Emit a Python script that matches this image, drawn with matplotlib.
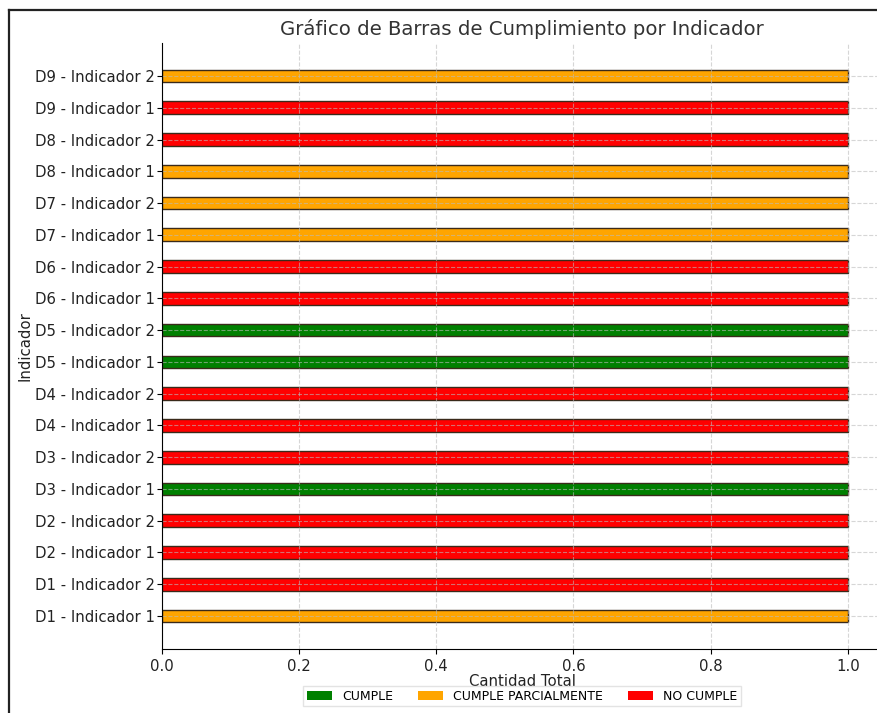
import matplotlib
matplotlib.use("Agg")
import matplotlib.pyplot as plt
from matplotlib.patches import Patch
from matplotlib.lines import Line2D

plt.rcParams['font.family'] = ['DejaVu Sans']

indicators = ["D1 - Indicador 1", "D1 - Indicador 2", "D2 - Indicador 1", "D2 - Indicador 2",
              "D3 - Indicador 1", "D3 - Indicador 2", "D4 - Indicador 1", "D4 - Indicador 2",
              "D5 - Indicador 1", "D5 - Indicador 2", "D6 - Indicador 1", "D6 - Indicador 2",
              "D7 - Indicador 1", "D7 - Indicador 2", "D8 - Indicador 1", "D8 - Indicador 2",
              "D9 - Indicador 1", "D9 - Indicador 2"]
status = ["CUMPLE PARCIALMENTE", "NO CUMPLE", "NO CUMPLE", "NO CUMPLE",
          "CUMPLE", "NO CUMPLE", "NO CUMPLE", "NO CUMPLE",
          "CUMPLE", "CUMPLE", "NO CUMPLE", "NO CUMPLE",
          "CUMPLE PARCIALMENTE", "CUMPLE PARCIALMENTE", "CUMPLE PARCIALMENTE", "NO CUMPLE",
          "NO CUMPLE", "CUMPLE PARCIALMENTE"]
values = [1] * 18
categories = ["CUMPLE", "CUMPLE PARCIALMENTE", "NO CUMPLE"]
colors = {"CUMPLE": "green", "CUMPLE PARCIALMENTE": "orange", "NO CUMPLE": "red"}

W, H = 878, 713
fig = plt.figure(figsize=(W / 100, H / 100), dpi=100)
ax = fig.add_axes([162 / W, 1 - 649 / H, (882 - 162) / W, (649 - 43) / H])

ypos = list(range(len(indicators)))
ax.barh(ypos, values, height=0.4, color=[colors[s] for s in status],
        edgecolor="#3a2a1a", linewidth=1.0, zorder=2)

ax.set_yticks(ypos)
ax.set_yticklabels(indicators, fontsize=10.7, color="#222222")
ax.set_xticks([0.0, 0.2, 0.4, 0.6, 0.8, 1.0])
ax.set_xticklabels(["0.0", "0.2", "0.4", "0.6", "0.8", "1.0"], fontsize=10.7, color="#222222")
ax.tick_params(axis="y", pad=1.5)
ax.set_xlim(0, 1.05)
ax.set_ylim(-1.04, 18.04)
ax.grid(True, linestyle="--", color="#bbbbbb", alpha=0.6, linewidth=0.8, zorder=3)
ax.set_axisbelow(False)
for sp in ["top", "right"]:
    ax.spines[sp].set_visible(False)
for sp in ["left", "bottom"]:
    ax.spines[sp].set_zorder(5)

ax.set_title("Gráfico de Barras de Cumplimiento por Indicador", fontsize=14.2, color="#333333", pad=6)
ax.set_xlabel("Cantidad Total", fontsize=10.7, color="#222222", labelpad=0)
ax.set_ylabel("Indicador", fontsize=10.7, color="#222222", labelpad=2)

handles = [Patch(facecolor=colors[c], label=c) for c in categories]
fig.legend(handles=handles, loc="center", bbox_to_anchor=(522 / W, 1 - 696 / H), ncol=3,
           fontsize=9, frameon=True, handlelength=2.0, handletextpad=0.8, columnspacing=2.0,
           borderpad=0.3, fancybox=False, edgecolor="#dddddd")

fig.add_artist(Line2D([9.5 / W, 9.5 / W], [0, 1 - 10 / H], transform=fig.transFigure,
                      color="#222222", linewidth=1.6))
fig.add_artist(Line2D([9.5 / W, 1], [1 - 10 / H, 1 - 10 / H], transform=fig.transFigure,
                      color="#222222", linewidth=1.6))

fig.savefig("out.png", dpi=100)
